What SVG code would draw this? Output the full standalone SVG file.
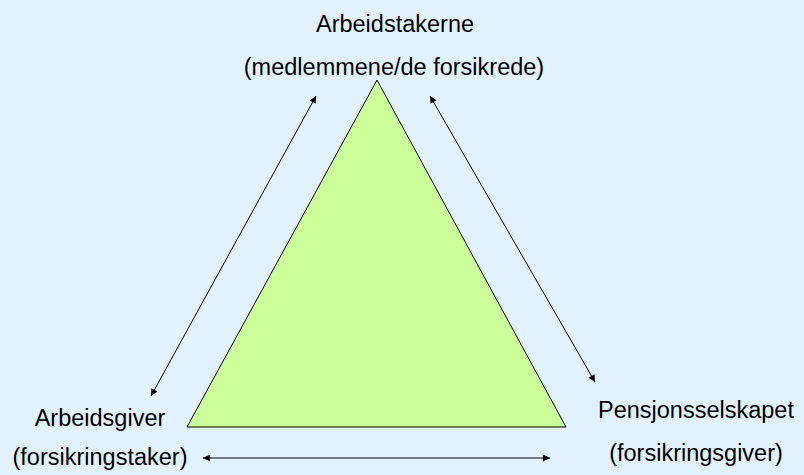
<svg xmlns="http://www.w3.org/2000/svg" width="804" height="475" viewBox="0 0 804 475">
<style>
text{font-family:"Liberation Sans",Arial,sans-serif;font-size:23.5px;fill:#000;text-anchor:middle}
.conn{stroke:#000;stroke-width:1;fill:none;marker-start:url(#ah);marker-end:url(#ah)}
</style>
<defs>
<marker id="ah" viewBox="0 0 10 10" refX="10" refY="5" markerWidth="10" markerHeight="7" markerUnits="userSpaceOnUse" orient="auto-start-reverse">
<path d="M0,0 L10,5 L0,10 z" fill="#000"/>
</marker>
</defs>
<rect width="804" height="475" fill="#E1F2FE"/>
<g id="triangle">
<polygon points="377,80 187,427 566,427" fill="#CCFF99" stroke="#000" stroke-width="1"/>
</g>
<g id="arbeidstakerne">
<text x="395" y="32">Arbeidstakerne</text>
<text x="394" y="75">(medlemmene/de forsikrede)</text>
</g>
<g id="arbeidsgiver">
<text x="100" y="426">Arbeidsgiver</text>
<text x="100" y="465">(forsikringstaker)</text>
</g>
<g id="pensjonsselskapet">
<text x="696" y="418">Pensjonsselskapet</text>
<text x="696" y="461">(forsikringsgiver)</text>
</g>
<g id="connectors">
<line class="conn" x1="316" y1="96" x2="151" y2="396"/>
<line class="conn" x1="430" y1="96" x2="595" y2="382"/>
<line class="conn" x1="203" y1="458" x2="550" y2="458"/>
</g>
</svg>
